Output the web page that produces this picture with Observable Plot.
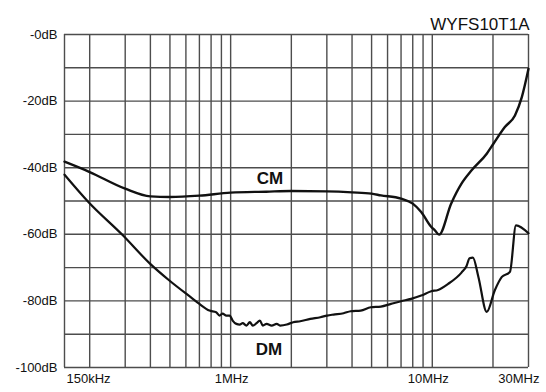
<!DOCTYPE html>
<html><head><meta charset="utf-8">
<script src="https://cdn.jsdelivr.net/npm/d3@7"></script>
<script src="https://cdn.jsdelivr.net/npm/@observablehq/plot@0.6"></script>
<style>body{margin:0;background:#fff}</style>
</head><body><div id="chart"></div>
<script>
const title = "WYFS10T1A";
// grid
const xGrid = [0.15,0.2,0.3,0.4,0.5,0.6,0.7,0.8,0.9,1,2,3,4,5,6,7,8,9,10,20,30];
const yGrid = [0,-10,-20,-30,-40,-50,-60,-70,-80,-90,-100];
// tick labels
const yTicks = [0,-20,-40,-60,-80,-100];
const yTickLabels = ["-0dB","-20dB","-40dB","-60dB","-80dB","-100dB"];
const xTicks = [0.15,1,10,30];
const xTickLabels = ["150kHz","1MHz","10MHz","30MHz"];
// series: frequency (MHz) and attenuation (dB)
const cmFreq = [0.15,0.2,0.3,0.4,0.5,0.7,1.0,1.5,2,3,4,5,5.56,7,8,8.81,9.89,10.3,10.8,12.4,13.96,15.67,18.62,20.1,22.9,25.7,27.8,30];
const cmDb   = [-38.2,-41.3,-46.3,-48.6,-48.8,-48.4,-47.5,-47.2,-47,-47.1,-47.4,-47.8,-48.3,-49.3,-50.8,-53.3,-57.8,-58.8,-60.1,-50.8,-44.8,-40.8,-35.8,-32.8,-27.8,-24.3,-18.8,-10.3];
const dmFreq = [0.15,0.197,0.292,0.398,0.495,0.647,0.70,0.785,0.848,0.881,0.912,0.952,0.989,1.023,1.068,1.109,1.148,1.198,1.245,1.288,1.345,1.396,1.445,1.508,1.598,1.692,1.758,1.899,2.042,2.213,2.483,2.786,3.01,3.236,3.631,3.936,4.416,4.955,5.559,6.237,6.998,7.852,8.81,9.886,10.68,11.98,13.96,14.79,15.3,15.9,16.93,18.62,20.42,22.13,24.27,26.0,30];
const dmDb   = [-42.1,-50.3,-60.3,-68.8,-73.8,-79.3,-80.9,-82.9,-83.4,-84.4,-83.8,-84.4,-84.4,-85.9,-86.9,-87.1,-86.7,-87.4,-86.4,-87.4,-86.7,-85.9,-87.4,-86.9,-87.4,-86.9,-87.4,-87.1,-86.4,-86.1,-85.4,-84.9,-84.4,-84.1,-83.7,-83.1,-82.9,-81.9,-81.7,-80.9,-80.1,-79.4,-78.4,-77.1,-76.7,-74.9,-71.5,-69.5,-67.2,-67.0,-72.8,-83.3,-76.8,-72.8,-71.3,-57.3,-59.7];
// series labels
const seriesNames = ["CM","DM"];
const seriesLabelFreq = [1.566,1.55];
const seriesLabelDb = [-43.2,-94.5];

const cm = cmFreq.map((f,i)=>({f, db: cmDb[i]}));
const dm = dmFreq.map((f,i)=>({f, db: dmDb[i]}));
const labels = seriesNames.map((n,i)=>({n, f: seriesLabelFreq[i], db: seriesLabelDb[i]}));

const xLabelStyle = [
  {textAnchor:"start", dx:2},
  {textAnchor:"middle", dx:1},
  {textAnchor:"middle", dx:-4},
  {textAnchor:"end", dx:11}
];

const ink = "#111";
const gridColor = "#4d4d4d";

const chart = Plot.plot({
  width: 546,
  height: 392,
  marginTop: 34,
  marginBottom: 25,
  marginLeft: 64,
  marginRight: 18,
  style: {fontFamily: "'Liberation Sans', Arial, sans-serif", fontSize: "13px", color: ink, background: "#fff", overflow: "visible"},
  x: {type: "log", domain: [0.15, 30], axis: null},
  y: {domain: [-100, 0], axis: null},
  marks: [
    Plot.ruleX(xGrid, {stroke: gridColor, strokeWidth: 1.4}),
    Plot.ruleY(yGrid, {stroke: gridColor, strokeWidth: 1.4}),
    Plot.axisY(yTicks, {label: null, tickSize: 0, tickPadding: 7, tickFormat: (d)=>yTickLabels[yTicks.indexOf(d)], fontSize: 13, letterSpacing: "-0.3px"}),
    ...xTicks.map((v,i)=>Plot.text([xTickLabels[i]], {x: [v], text: d=>d, frameAnchor: "bottom", lineAnchor: "top", dy: 6, fontSize: 13, letterSpacing: "-0.3px", fill: ink, ...xLabelStyle[i]})),
    Plot.line(cm, {x: "f", y: "db", stroke: ink, strokeWidth: 2.4, curve: "monotone-x"}),
    Plot.line(dm, {x: "f", y: "db", stroke: ink, strokeWidth: 2.2, curve: "monotone-x"}),
    Plot.text(labels, {x: "f", y: "db", text: "n", fontWeight: "bold", fontSize: 17, fill: ink}),
    Plot.text([title], {frameAnchor: "top-right", dy: -17, dx: 1, fontSize: 17, fill: ink, textAnchor: "end"})
  ]
});
document.getElementById("chart").append(chart);
</script>
</body></html>
